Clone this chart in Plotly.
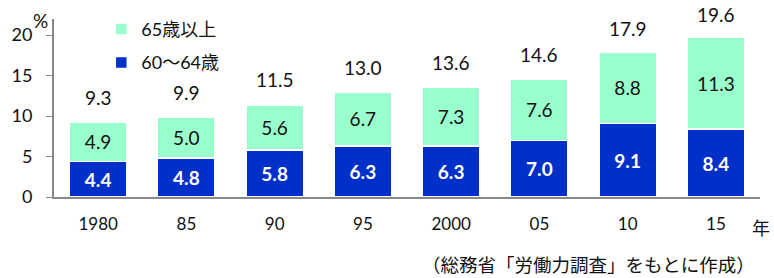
import plotly.graph_objects as go

years = ["1980", "85", "90", "95", "2000", "05", "10", "15"]
age_60_64 = [4.4, 4.8, 5.8, 6.3, 6.3, 7.0, 9.1, 8.4]
age_65_plus = [4.9, 5.0, 5.6, 6.7, 7.3, 7.6, 8.8, 11.3]
totals = [9.3, 9.9, 11.5, 13.0, 13.6, 14.6, 17.9, 19.6]
y_ticks = [0, 5, 10, 15, 20]

FONT = "Lato, 'Noto Sans CJK JP', sans-serif"
BLUE = "#0030C8"
GREEN = "#99FFCC"

fig = go.Figure()
fig.add_trace(go.Bar(
    x=years, y=age_60_64, name="60〜64歳", legendgroup="a", legendrank=2,
    marker=dict(color=BLUE, line=dict(color="white", width=1.5)),
    text=[f"{v:.1f}" for v in age_60_64], textposition="inside",
    insidetextanchor="middle",
    textfont=dict(color="white", size=19, family=FONT, weight="bold"),
))
fig.add_trace(go.Bar(
    x=years, y=age_65_plus, name="65歳以上", legendgroup="b", legendrank=1,
    marker=dict(color=GREEN, line=dict(color="white", width=1.5)),
    text=[f"{v:.1f}" for v in age_65_plus], textposition="inside",
    insidetextanchor="middle",
    textfont=dict(color="#111111", size=19, family=FONT),
))

for i, t in enumerate(totals):
    fig.add_annotation(x=i, y=t, text=f"{t:.1f}", showarrow=False,
                       yshift=24, font=dict(size=19, color="#111111", family=FONT))

fig.add_annotation(xref="paper", yref="paper", x=-0.019, y=0.99, text="%",
                   xanchor="center", yanchor="middle",
                   showarrow=False, font=dict(size=19, color="#111111", family=FONT))
fig.add_annotation(xref="paper", yref="paper", x=1.017, y=-0.173, text="年",
                   xanchor="right", yanchor="middle", showarrow=False,
                   font=dict(size=18, color="#111111", family=FONT))
fig.add_annotation(xref="paper", yref="paper", x=0.996, y=-0.38,
                   text="（総務省「労働力調査」をもとに作成）",
                   xanchor="right", yanchor="middle", showarrow=False,
                   font=dict(size=18.5, color="#111111", family=FONT))

fig.update_layout(
    width=774, height=278,
    margin=dict(l=54, r=14, t=18, b=81),
    barmode="stack", bargap=0.35,
    plot_bgcolor="white", paper_bgcolor="white",
    font=dict(family=FONT, size=17, color="#111111"),
    uniformtext=dict(mode=False),
    legend=dict(x=0.067, y=1.04, xanchor="left", yanchor="top",
                traceorder="grouped", font=dict(size=18, family=FONT),
                bgcolor="rgba(0,0,0,0)", itemwidth=30, tracegroupgap=7),
    xaxis=dict(showline=True, linecolor="#888888", linewidth=2,
               tickfont=dict(size=17), ticks="", ticklabelstandoff=11,
               range=[-0.5, 7.5]),
    yaxis=dict(range=[0, 22], tickvals=y_ticks, showgrid=False,
               showline=True, linecolor="#888888", linewidth=2,
               ticks="outside", ticklen=6, tickcolor="#888888",
               ticklabelstandoff=10,
               tickfont=dict(size=18), zeroline=False),
)

fig.write_html("out.html", config={"displayModeBar": False},
               post_script="document.body.style.margin='0';document.body.style.overflow='hidden';")
